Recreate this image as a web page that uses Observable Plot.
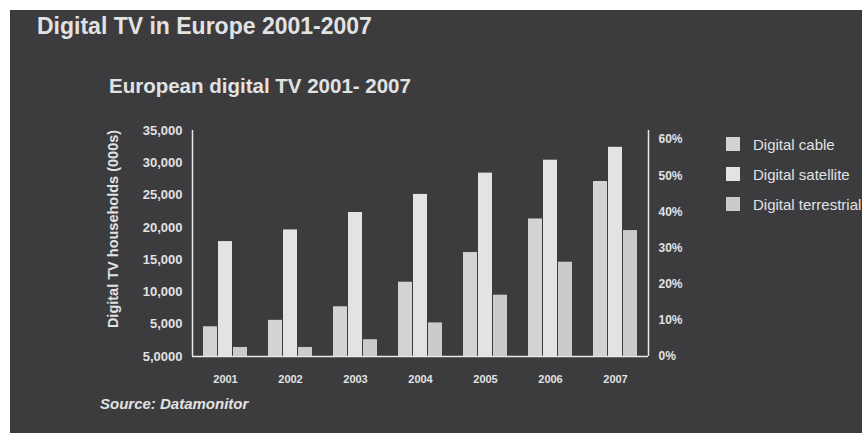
<!DOCTYPE html>
<html>
<head>
<meta charset="utf-8">
<script src="https://cdn.jsdelivr.net/npm/d3@7"></script>
<script src="https://cdn.jsdelivr.net/npm/@observablehq/plot@0.6"></script>
<style>
html, body { margin: 0; padding: 0; background: #ffffff; }
body { width: 862px; height: 433px; overflow: hidden; position: relative; font-family: "Liberation Sans", Arial, Helvetica, sans-serif; }
#panel { position: absolute; left: 10px; top: 10px; width: 852px; height: 423px; background: #3c3c3f; }
.abs { position: absolute; white-space: nowrap; color: #e2e2e2; line-height: normal; }
#title { left: 37px; top: 13px; font-size: 23px; font-weight: bold; }
#subtitle { left: 109px; top: 74px; font-size: 20.5px; font-weight: bold; }
#ylabel { left: 113px; top: 229px; font-size: 14.5px; font-weight: bold; transform: translate(-50%, -50%) rotate(-90deg); }
#source { left: 100px; top: 395px; font-size: 15px; font-weight: bold; font-style: italic; }
#legend { position: absolute; left: 726px; top: 137px; }
.item { display: flex; align-items: center; height: 14px; margin-bottom: 16px; white-space: nowrap; }
.sw { width: 14px; height: 14px; margin-right: 13px; flex: none; }
.lt { color: #e2e2e2; font-size: 15px; }
.plotlayer { position: absolute; left: 0; top: 0; }
</style>
</head>
<body>
<div id="panel"></div>
<div id="axes" class="plotlayer"></div>
<div id="bars" class="plotlayer"></div>
<div id="title" class="abs">Digital TV in Europe 2001-2007</div>
<div id="subtitle" class="abs">European digital TV 2001- 2007</div>
<div id="ylabel" class="abs">Digital TV households (000s)</div>
<div id="source" class="abs">Source: Datamonitor</div>
<div id="legend"></div>
<script>
// ---- data ----
const years = ["2001", "2002", "2003", "2004", "2005", "2006", "2007"];
const seriesNames = ["Digital cable", "Digital satellite", "Digital terrestrial"];
const cable = [4600, 5600, 7700, 11500, 16100, 21300, 27100];
const satellite = [17800, 19600, 22300, 25100, 28400, 30400, 32400];
const terrestrial = [1400, 1400, 2600, 5200, 9500, 14600, 19500];
const seriesColors = ["#d3d3d3", "#e3e3e3", "#cbcbcb"];

const yTicks = [0, 5000, 10000, 15000, 20000, 25000, 30000, 35000];
const yTickLabels = ["5,0000", "5,000", "10,000", "15,000", "20,000", "25,000", "30,000", "35,000"];
const pctTicks = [0, 10, 20, 30, 40, 50, 60];
const pctTickLabels = ["0%", "10%", "20%", "30%", "40%", "50%", "60%"];
const pctTopValue = 33600; // households value at which the right axis' 60% sits

const seriesValues = [cable, satellite, terrestrial];
const rows = [];
years.forEach((yr, i) => {
  seriesNames.forEach((s, j) => rows.push({year: yr, series: s, value: seriesValues[j][i]}));
});

const W = 862, H = 433;
const common = {
  width: W, height: H,
  marginLeft: 192, marginRight: 214, marginTop: 130, marginBottom: 77,
  style: {background: "transparent", color: "#e2e2e2", fontFamily: "'Liberation Sans', Arial, sans-serif", fontWeight: "bold", fontSize: "13px", overflow: "visible"}
};

// axes layer
const pctPos = p => p / 60 * pctTopValue;
const axes = Plot.plot({
  ...common,
  x: {domain: [0, 1], axis: null},
  y: {domain: [0, 35000], axis: null},
  marks: [
    Plot.ruleX([0, 1], {y1: 0, y2: 35000, stroke: "#e8e8e8", strokeWidth: 1.5}),
    Plot.ruleY([0], {stroke: "#e8e8e8", strokeWidth: 1.5}),
    Plot.axisY({anchor: "left", ticks: yTicks, tickSize: 0, tickPadding: 10, label: null,
      tickFormat: d => yTickLabels[yTicks.indexOf(d)]}),
    Plot.axisY({anchor: "right", ticks: pctTicks.map(pctPos), tickSize: 0, tickPadding: 10, label: null, fontSize: 12,
      tickFormat: d => pctTickLabels[pctTicks.map(pctPos).indexOf(d)]})
  ]
});
document.getElementById("axes").appendChild(axes);

// bars layer
const bars = Plot.plot({
  ...common,
  style: {...common.style, fontSize: "11px"},
  fx: {domain: years, paddingInner: 0.3, paddingOuter: 0.115, label: null, tickSize: 0, tickPadding: 19, axis: "bottom"},
  x: {domain: seriesNames, paddingInner: 0.08, paddingOuter: 0, axis: null},
  y: {domain: [0, 35000], axis: null},
  color: {domain: seriesNames, range: seriesColors},
  marks: [
    Plot.barY(rows, {fx: "year", x: "series", y: "value", fill: "series"})
  ]
});
document.getElementById("bars").appendChild(bars);

// legend
const legend = document.getElementById("legend");
seriesNames.forEach((s, j) => {
  const item = document.createElement("div");
  item.className = "item";
  const sw = document.createElement("div");
  sw.className = "sw";
  sw.style.background = seriesColors[j];
  const t = document.createElement("span");
  t.className = "lt";
  t.textContent = s;
  item.appendChild(sw); item.appendChild(t);
  legend.appendChild(item);
});
</script>
</body>
</html>
